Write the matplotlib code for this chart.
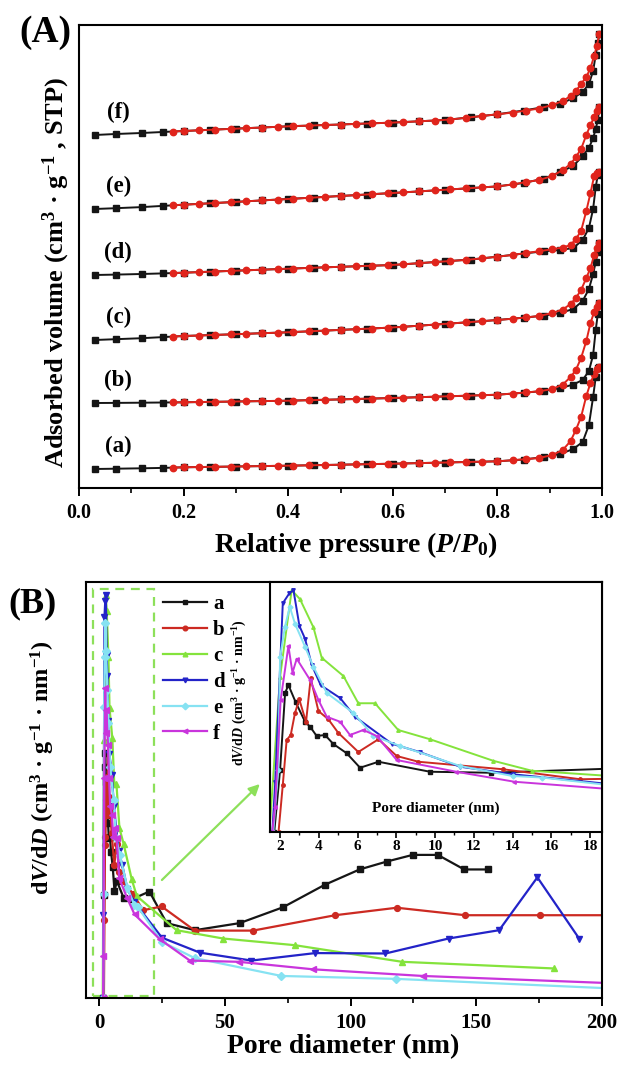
import matplotlib
matplotlib.use('Agg')
import matplotlib.pyplot as plt
from matplotlib.ticker import MultipleLocator, NullLocator
from matplotlib.patches import Rectangle

plt.rcParams['font.family'] = ['Liberation Serif', 'DejaVu Serif']
plt.rcParams['font.weight'] = 'bold'
plt.rcParams['mathtext.fontset'] = 'custom'
plt.rcParams['mathtext.rm'] = 'Liberation Serif:bold'
plt.rcParams['mathtext.it'] = 'Liberation Serif:italic:bold'
plt.rcParams['mathtext.bf'] = 'Liberation Serif:bold'
plt.rcParams['axes.linewidth'] = 1.5

# ---------------- Panel A data (N2 isotherms) ----------------
P_ADS = [0.03, 0.07, 0.12, 0.16, 0.20, 0.25, 0.30, 0.35, 0.40, 0.45, 0.50, 0.55, 0.60, 0.65,
         0.70, 0.75, 0.80, 0.85, 0.89, 0.92, 0.945, 0.963, 0.975, 0.983, 0.988, 0.992, 0.995]
P_DES = [0.995, 0.99, 0.985, 0.978, 0.97, 0.96, 0.95, 0.94, 0.925, 0.905, 0.88, 0.855, 0.83,
         0.80, 0.77, 0.74, 0.71, 0.68, 0.65, 0.62, 0.59, 0.56, 0.53, 0.50, 0.47, 0.44, 0.41,
         0.38, 0.35, 0.32, 0.29, 0.26, 0.23, 0.20, 0.18]

a_ads = [0, 0.3, 0.7, 1.1, 1.7, 2.1, 2.5, 2.9, 3.3, 3.8, 4.3, 4.8, 5.3, 5.9, 6.5, 7.1, 7.7, 9.5,
         12, 15, 20, 27, 44, 72, 92, 101, 102]
b_ads = [0, 0.1, 0.3, 0.5, 0.7, 1.1, 1.5, 1.9, 2.3, 3.0, 3.6, 4.3, 5.0, 5.8, 6.6, 7.4, 8.3, 10.2,
         12.2, 14.8, 18.5, 23, 32, 48, 73, 89, 100]
c_ads = [0, 0.8, 1.8, 2.9, 4.0, 4.9, 5.8, 6.8, 7.7, 8.9, 10.1, 11.3, 12.5, 14.3, 16.1, 18.0, 20.0,
         22.3, 24.5, 27, 31, 39, 51, 66, 78, 88, 97]
d_ads = [0, 0.4, 1.0, 1.6, 2.3, 3.3, 4.3, 5.3, 6.3, 7.3, 8.2, 9.1, 10.0, 11.8, 13.7, 15.5, 18.3,
         21.5, 23.8, 25, 27, 35, 47, 66, 88, 100, 103]
e_ads = [0, 0.8, 1.9, 3.1, 4.3, 5.7, 7.1, 8.6, 10.0, 11.5, 13.0, 14.5, 16.0, 17.6, 19.2, 20.9, 22.6,
         26, 30.5, 37, 43, 53, 61, 71, 80, 89, 102]
f_ads = [0, 1.0, 2.0, 3.0, 4.0, 5.2, 6.4, 7.5, 8.7, 9.6, 10.5, 11.5, 12.4, 13.7, 15.0, 17.8, 20.7,
         24.5, 28, 31, 37, 43, 51, 64, 80, 92, 101]

a_des = [102, 100, 95, 86, 73, 52, 39, 28, 19, 14, 11, 9.9, 8.8, 7.7, 7.3, 7.0, 6.6, 6.2, 5.9, 5.5,
         5.2, 4.9, 4.6, 4.3, 4.0, 3.7, 3.4, 3.2, 2.9, 2.7, 2.4, 2.2, 2.0, 1.7, 1.4]
b_des = [100, 96, 91, 80, 62, 45, 33, 26, 18.5, 14, 11.7, 10.6, 9.5, 8.3, 7.8, 7.3, 6.8, 6.3, 5.8,
         5.3, 4.9, 4.4, 4.0, 3.6, 3.2, 2.8, 2.4, 2.1, 1.9, 1.7, 1.4, 1.2, 1.0, 0.7, 0.6]
c_des = [97, 92, 85, 72, 62, 50, 42, 36, 30.5, 27, 24, 22.6, 21.3, 20.0, 18.8, 17.6, 16.5, 15.4,
         14.3, 13.2, 12.3, 11.5, 10.8, 10.1, 9.4, 8.7, 8.0, 7.3, 6.8, 6.2, 5.6, 5.1, 4.5, 4.0, 3.5]
d_des = [103, 102, 99, 82, 64, 44, 36, 30, 27.5, 25.8, 23.8, 22, 20.1, 18.3, 16.6, 15.1, 14.0,
         12.9, 11.8, 10.7, 9.8, 9.3, 8.7, 8.2, 7.7, 7.1, 6.5, 5.9, 5.3, 4.7, 4.1, 3.5, 2.9, 2.3, 2.0]
e_des = [102, 98, 92, 84, 74, 60, 52, 45, 39, 33, 29, 27, 24.6, 22.6, 21.6, 20.6, 19.6, 18.6,
         17.6, 16.6, 15.7, 14.8, 13.9, 13.0, 12.1, 11.2, 10.3, 9.4, 8.6, 7.7, 6.8, 6.0, 5.1, 4.3, 3.8]
f_des = [101, 89, 79, 67, 58, 51, 44, 39, 34, 30, 26.5, 24.5, 22.5, 20.7, 19, 17.2, 15.5, 14.5,
         13.7, 12.9, 12.2, 11.7, 11.1, 10.5, 10.0, 9.4, 8.9, 8.2, 7.5, 6.8, 6.1, 5.4, 4.7, 4.0, 3.5]

ISO_LABELS = ['(a)', '(b)', '(c)', '(d)', '(e)', '(f)']
ISO_OFFSETS = [19, 85, 148, 213, 279, 353]

# ---------------- Panel B data (pore size distribution) ----------------
PSD_LABELS = ['a', 'b', 'c', 'd', 'e', 'f']
a_x = [1.7, 2.0, 2.26, 2.43, 2.8, 3.29, 3.55, 3.89, 4.32, 4.75, 5.44, 6.13, 7.08, 9.74, 12.9, 20.0,
       26.9, 38.1, 55.9, 73.1, 89.7, 103.6, 114.4, 124.7, 134.7, 145.2, 154.5]
a_y = [0, 24.8, 55.6, 58.8, 52.0, 44.1, 42.1, 38.4, 38.8, 35.2, 31.5, 25.7, 28.1, 24.1, 23.7, 25.6,
       18.0, 16.3, 18.0, 21.8, 27.2, 30.9, 32.8, 34.4, 34.4, 30.9, 30.9]
b_x = [1.92, 2.14, 2.34, 2.55, 2.77, 2.99, 3.34, 3.58, 3.98, 4.49, 5.0, 6.04, 7.08, 8.02, 9.14, 13.5,
       17.5, 24.9, 38.1, 61.2, 93.9, 118.4, 145.6, 175.3, 215]
b_y = [0, 18.8, 36.8, 38.8, 47.6, 53.1, 44.0, 61.5, 48.4, 45.1, 39.7, 32.0, 37.1, 30.4, 28.1, 25.1,
       21.1, 22.0, 16.2, 16.2, 19.9, 21.7, 19.9, 19.9, 19.9]
c_x = [1.45, 2.0, 2.6, 3.03, 3.72, 4.15, 5.27, 6.04, 6.9, 8.1, 9.74, 13.0, 15.0, 30.8, 49.3, 77.8,
       120.5, 181.0]
c_y = [0, 62, 96.8, 93.1, 81.9, 69.7, 62.4, 51.5, 51.5, 40.8, 37.1, 28.5, 24.5, 16.3, 14.3, 12.7,
       8.7, 7.1]
d_x = [1.6, 1.75, 2.14, 2.48, 2.69, 3.0, 3.29, 3.64, 4.1, 5.1, 5.87, 7.77, 9.2, 11.3, 14.0, 25.0,
       40.1, 60.6, 86.0, 113.9, 139.0, 159.1, 174.3, 190.9]
d_y = [0, 20, 91.5, 95.5, 96.8, 82.4, 77.3, 66.7, 58.7, 53.6, 46.1, 35.3, 32.0, 26.1, 23.1, 14.5,
       10.9, 9.0, 10.8, 10.7, 14.3, 16.3, 29.0, 14.3]
e_x = [1.65, 1.9, 2.0, 2.25, 2.5, 2.77, 3.29, 3.72, 4.41, 5.79, 6.82, 8.2, 11.3, 14.0, 15.5, 25.0,
       38.0, 72.5, 118.0, 215]
e_y = [0, 25, 70, 82, 90.1, 83.3, 74.1, 66.1, 55.6, 47.6, 38.4, 34.4, 26.4, 22.4, 21.8, 13.5,
       9.6, 5.3, 4.6, 2.0]
f_x = [1.6, 1.74, 2.03, 2.43, 2.64, 2.86, 3.55, 3.98, 4.41, 5.1, 5.61, 6.3, 6.99, 8.02, 11.1, 14.1,
       24.2, 36.1, 55.6, 85.0, 128.7, 215]
f_y = [0, 10, 52.8, 74.4, 63.7, 69.3, 60.8, 52.8, 46.1, 44.1, 38.8, 40.8, 38.4, 28.8, 24.1, 20.1,
       14.1, 9.0, 8.7, 6.9, 5.3, 3.3]

PSD_COLORS = ['#151515', '#cc2a22', '#84e33c', '#2323c8', '#86e2f2', '#c935dc']
PSD_MARKERS = ['s', 'o', '^', 'v', 'D', '<']
GREEN = '#8de05a'

W, H = 618, 1067
fig = plt.figure(figsize=(W / 100, H / 100), dpi=100)


def rect(l, t, r, b):
    return [l / W, 1 - b / H, (r - l) / W, (b - t) / H]


# ---------------- Panel A ----------------
axA = fig.add_axes(rect(79, 25, 602, 488))
ads_sets = [a_ads, b_ads, c_ads, d_ads, e_ads, f_ads]
des_sets = [a_des, b_des, c_des, d_des, e_des, f_des]
for lab, off, ads, des in zip(ISO_LABELS, ISO_OFFSETS, ads_sets, des_sets):
    axA.plot(P_ADS, [v + off for v in ads], '-s', color='#151515', ms=4.2, lw=1.4)
    axA.plot(P_DES, [v + off for v in des], '-o', color='#e0241c', ms=4.6, lw=1.4)
    axA.text(0.075, off + 23, lab, ha='center', va='center', fontsize=16.5, fontweight='bold')
axA.set_xlim(0, 1.0)
axA.set_ylim(0, 463)
axA.xaxis.set_major_locator(MultipleLocator(0.2))
axA.xaxis.set_minor_locator(MultipleLocator(0.1))
axA.xaxis.set_major_formatter(matplotlib.ticker.FormatStrFormatter('%.1f'))
axA.yaxis.set_major_locator(NullLocator())
axA.tick_params(axis='x', which='major', direction='out', length=6, width=1.4, labelsize=14.5, pad=5)
axA.tick_params(axis='x', which='minor', direction='out', length=3.5, width=1.2)
fig.text(56 / W, 1 - 272 / H, r'Adsorbed volume (cm$^{3}$ · g$^{-1}$ , STP)', rotation=90,
         ha='center', va='center', fontsize=19, fontweight='bold')
fig.text(356 / W, 1 - 545 / H, r'Relative pressure ($\mathit{P}$/$\mathit{P}_{0}$)',
         ha='center', va='center', fontsize=20, fontweight='bold')
fig.text(45 / W, 1 - 33 / H, '(A)', ha='center', va='center', fontsize=27, fontweight='bold')

# ---------------- Panel B main ----------------
axB = fig.add_axes(rect(86, 582, 602, 998))
xs = [a_x, b_x, c_x, d_x, e_x, f_x]
ys = [a_y, b_y, c_y, d_y, e_y, f_y]
for lab, x, y, c, m in zip(PSD_LABELS, xs, ys, PSD_COLORS, PSD_MARKERS):
    axB.plot(x, y, '-', marker=m, color=c, ms=4.2, lw=1.6, label=lab)
axB.set_xlim(-5.2, 200)
axB.set_ylim(0, 100)
axB.xaxis.set_major_locator(MultipleLocator(50))
axB.xaxis.set_minor_locator(MultipleLocator(25))
axB.yaxis.set_major_locator(NullLocator())
axB.tick_params(axis='x', which='major', direction='out', length=6, width=1.4, labelsize=15, pad=5)
axB.tick_params(axis='x', which='minor', direction='out', length=3.5, width=1.2)
axB.add_patch(Rectangle((-2.4, 0.4), 24.2, 97.8, fill=False, ls=(0, (4, 3)), ec=GREEN, lw=1.6,
                        zorder=1))
axB.annotate('', xy=(64.7, 51.9), xytext=(24.2, 27.9),
             arrowprops=dict(arrowstyle='-|>', color=GREEN, lw=1.6, mutation_scale=16))
leg = axB.legend(loc='upper left', bbox_to_anchor=(0.149, 0.97), frameon=False, fontsize=15,
                 handlelength=2.1, handletextpad=0.3, labelspacing=0.28, borderpad=0,
                 borderaxespad=0, markerscale=0.8)
fig.text(43 / W, 1 - 768 / H, r'd$\mathit{V}$/d$\mathit{D}$ (cm$^{3}$ · g$^{-1}$ · nm$^{-1}$)',
         rotation=90, ha='center', va='center', fontsize=17.5, fontweight='bold')
fig.text(343 / W, 1 - 1047 / H, 'Pore diameter (nm)', ha='center', va='center', fontsize=20,
         fontweight='bold')
fig.text(33 / W, 1 - 604 / H, '(B)', ha='center', va='center', fontsize=26, fontweight='bold')

# ---------------- Inset ----------------
axI = fig.add_axes(rect(270, 582, 602, 832))
for x, y, c, m in zip(xs, ys, PSD_COLORS, PSD_MARKERS):
    axI.plot(x, y, '-', marker=m, color=c, ms=2.5, lw=1.4)
axI.set_xlim(1.48, 18.62)
axI.set_ylim(0, 100)
axI.xaxis.set_major_locator(MultipleLocator(2))
axI.xaxis.set_minor_locator(MultipleLocator(1))
axI.yaxis.set_major_locator(NullLocator())
axI.tick_params(axis='x', which='major', direction='out', length=4, width=1.2, labelsize=11, pad=2)
axI.tick_params(axis='x', which='minor', direction='out', length=2.5, width=1.0)
axI.text(0.5, 0.096, 'Pore diameter (nm)', transform=axI.transAxes, ha='center', va='center',
         fontsize=11, fontweight='bold')
fig.text(240 / W, 1 - 693 / H, r'd$\mathit{V}$/d$\mathit{D}$ (cm$^{3}$ · g$^{-1}$ · nm$^{-1}$)',
         rotation=90, ha='center', va='center', fontsize=10, fontweight='bold')

fig.savefig('out.png', dpi=100)
